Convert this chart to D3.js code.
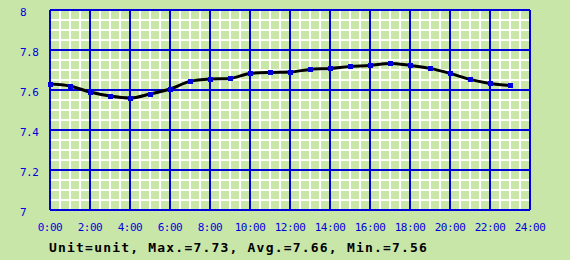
<!DOCTYPE html>
<html>
<head>
<meta charset="utf-8">
<script src="https://cdn.jsdelivr.net/npm/d3@7"></script>
<style>
  html, body { margin: 0; padding: 0; background: #c8e6a8; }
  svg { display: block; }
</style>
</head>
<body>
<svg id="chart"></svg>
<script>
// hourly readings, 0:00 .. 23:00
const hours = d3.range(0, 24);
const values = [7.63, 7.62, 7.59, 7.57, 7.56, 7.58, 7.605, 7.643, 7.655, 7.658, 7.683, 7.688,
                7.69, 7.703, 7.708, 7.718, 7.723, 7.733, 7.723, 7.708, 7.683, 7.653, 7.633, 7.623];
const xTicks = d3.range(0, 25, 2);
const yTicks = [7, 7.2, 7.4, 7.6, 7.8, 8];
const footer = "Unit=unit, Max.=7.73, Avg.=7.66, Min.=7.56";

const width = 570, height = 260;
const svg = d3.select("#chart").attr("width", width).attr("height", height);

const x = d3.scaleLinear().domain([0, 24]).range([50, 530]);
const y = d3.scaleLinear().domain([7, 8]).range([210, 10]);

const blue = "#0000dd";

// minor grid (white)
const g = svg.append("g").attr("shape-rendering", "crispEdges");
g.selectAll(".vminor").data(d3.range(0, 24.01, 0.5)).join("line")
  .attr("x1", d => x(d)).attr("x2", d => x(d))
  .attr("y1", y(7)).attr("y2", y(8))
  .attr("stroke", "#fff").attr("stroke-width", 2);
g.selectAll(".hminor").data(d3.range(0, 20).map(i => 7 + i * 0.05)).join("line")
  .attr("x1", x(0)).attr("x2", x(24))
  .attr("y1", d => y(d)).attr("y2", d => y(d))
  .attr("stroke", "#fff").attr("stroke-width", 2);

// major grid (blue)
g.selectAll(".vmajor").data(xTicks).join("line")
  .attr("x1", d => x(d)).attr("x2", d => x(d))
  .attr("y1", y(7)).attr("y2", y(8))
  .attr("stroke", blue).attr("stroke-width", 2);
g.selectAll(".hmajor").data(yTicks).join("line")
  .attr("x1", x(0)).attr("x2", x(24))
  .attr("y1", d => y(d)).attr("y2", d => y(d))
  .attr("stroke", blue).attr("stroke-width", 2);

// axis labels
svg.selectAll(".ylab").data(yTicks).join("text")
  .attr("x", 20).attr("y", d => y(d) + 6)
  .attr("font-family", "DejaVu Sans Mono, monospace")
  .attr("font-size", 11).attr("letter-spacing", -0.5)
  .attr("fill", blue)
  .text(d => d3.format("~g")(d));

svg.selectAll(".xlab").data(xTicks).join("text")
  .attr("x", d => x(d)).attr("y", 231)
  .attr("text-anchor", "middle")
  .attr("font-family", "DejaVu Sans Mono, monospace")
  .attr("font-size", 11).attr("letter-spacing", -0.5)
  .attr("fill", blue)
  .text(d => d + ":00");

// data line
const data = hours.map((h, i) => ({ h, v: values[i] }));
const line = d3.line().x(d => x(d.h)).y(d => y(d.v)).curve(d3.curveMonotoneX);
svg.append("path").datum(data)
  .attr("d", line)
  .attr("fill", "none").attr("stroke", "#000").attr("stroke-width", 3);

svg.selectAll(".pt").data(data).join("rect")
  .attr("x", d => x(d.h) - 2.5).attr("y", d => y(d.v) - 2.5)
  .attr("width", 5).attr("height", 5)
  .attr("fill", blue).attr("shape-rendering", "crispEdges");

svg.append("text")
  .attr("x", 49).attr("y", 252)
  .attr("font-family", "DejaVu Sans Mono, monospace")
  .attr("font-size", 13).attr("font-weight", "bold").attr("letter-spacing", 1.2)
  .attr("fill", "#000")
  .text(footer);
</script>
</body>
</html>
